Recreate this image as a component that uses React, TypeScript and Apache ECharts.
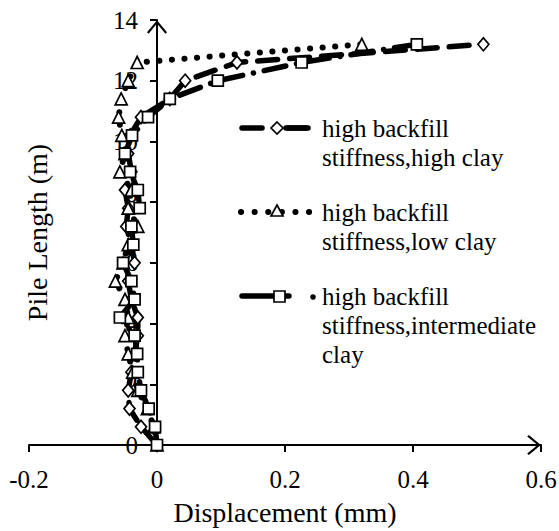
import React, { useEffect, useRef } from "react";
import * as echarts from "echarts";

// Pile length (m) at each measured point
const depth = [0, 0.6, 1.2, 1.8, 2.4, 3.0, 3.6, 4.2, 4.8, 5.4, 6.0, 6.6, 7.2, 7.8, 8.4, 9.0, 9.6, 10.2, 10.8, 11.4, 12.0, 12.6, 13.2];

// Displacement (mm)
const highClay = [0, -0.025, -0.043, -0.045, -0.04, -0.035, -0.03, -0.03, -0.04, -0.045, -0.035, -0.04, -0.048, -0.045, -0.05, -0.04, -0.045, -0.042, -0.025, 0.02, 0.044, 0.125, 0.51];
const lowClay = [0, -0.005, -0.015, -0.03, -0.038, -0.045, -0.05, -0.045, -0.05, -0.065, -0.053, -0.045, -0.03, -0.045, -0.04, -0.058, -0.05, -0.055, -0.06, -0.056, -0.045, -0.031, 0.32];
const interClay = [0, -0.003, -0.013, -0.025, -0.03, -0.031, -0.035, -0.058, -0.035, -0.04, -0.053, -0.037, -0.04, -0.027, -0.03, -0.042, -0.05, -0.039, -0.014, 0.02, 0.095, 0.226, 0.406];

const seriesNames = [
  "high backfill\nstiffness,high clay",
  "high backfill\nstiffness,low clay",
  "high backfill\nstiffness,intermediate\nclay",
];

const FONT = "'Liberation Serif', 'Times New Roman', serif";
const ARROW = "path://M0,0 L10,12 L8.4,13.6 L0,3.2 L-8.4,13.6 L-10,12 Z";

const GRID_LEFT = 29;
const GRID_RIGHT = 18;
const PLOT_W = 559 - GRID_LEFT - GRID_RIGHT;
const X_MIN = -0.2;
const X_MAX = 0.6;

export default function App() {
  const ref = useRef<HTMLDivElement>(null);

  useEffect(() => {
    if (!ref.current) return;
    const chart = echarts.init(ref.current, undefined, { renderer: "svg" });

    const toPts = (xs: number[]) => xs.map((x, i) => [x, depth[i]]);
    const markerStyle = { color: "#fff", borderColor: "#000", borderWidth: 1.7 };
    // shift the y axis so that it crosses the x axis at displacement 0
    const yAxisShift = ((0 - X_MIN) / (X_MAX - X_MIN)) * PLOT_W;

    const legendText = (text: string, x: number, y: number) => ({
      type: "text",
      x,
      y,
      style: { text, font: `25px ${FONT}`, fill: "#000", lineHeight: 29, verticalAlign: "top" },
    });

    chart.setOption({
      animation: false,
      backgroundColor: "#fff",
      grid: { left: GRID_LEFT, right: GRID_RIGHT, top: 20, bottom: 86, containLabel: false, outerBoundsMode: "none" },
      xAxis: {
        type: "value",
        min: X_MIN,
        max: X_MAX,
        interval: 0.2,
        name: "Displacement (mm)",
        nameLocation: "middle",
        nameGap: 53,
        nameTextStyle: { fontFamily: FONT, fontSize: 28, color: "#000" },
        axisLine: {
          onZero: true,
          symbol: ["none", ARROW],
          symbolSize: [20, 14],
          symbolOffset: [0, -7],
          lineStyle: { color: "#000", width: 2 },
        },
        axisTick: { show: true, length: 7, lineStyle: { color: "#000", width: 2 } },
        axisLabel: {
          fontFamily: FONT,
          fontSize: 25,
          color: "#000",
          margin: 22,
          formatter: (v: number) => String(Math.round(v * 10) / 10),
        },
        splitLine: { show: false },
      },
      yAxis: {
        type: "value",
        min: 0,
        max: 14,
        interval: 2,
        position: "left",
        offset: -yAxisShift,
        name: "Pile Length (m)",
        nameLocation: "middle",
        nameGap: 106,
        nameTextStyle: { fontFamily: FONT, fontSize: 28, color: "#000" },
        axisLine: {
          onZero: false,
          symbol: ["none", ARROW],
          symbolSize: [20, 14],
          symbolOffset: [0, -7],
          lineStyle: { color: "#000", width: 2 },
        },
        axisTick: { show: true, length: 7, lineStyle: { color: "#000", width: 2 } },
        axisLabel: {
          fontFamily: FONT,
          fontSize: 25,
          color: "#000",
          margin: 19,
          showMaxLabel: true,
        },
        splitLine: { show: false },
      },
      series: [
        {
          name: seriesNames[0],
          type: "line",
          data: toPts(highClay),
          symbol: "diamond",
          symbolSize: [11, 13],
          itemStyle: markerStyle,
          lineStyle: { color: "#000", width: 5.5, type: [20, 12], cap: "round" },
          z: 3,
        },
        {
          name: seriesNames[1],
          type: "line",
          data: toPts(lowClay),
          symbol: "triangle",
          symbolSize: 12,
          itemStyle: markerStyle,
          lineStyle: { color: "#000", width: 6, type: [0.1, 12.5], cap: "round" },
          z: 3,
        },
        {
          name: seriesNames[2],
          type: "line",
          data: toPts(interClay),
          symbol: "rect",
          symbolSize: 11,
          itemStyle: markerStyle,
          lineStyle: { color: "#000", width: 5.5, type: [22, 11, 0.1, 11], cap: "round" },
          z: 4,
        },
      ],
      graphic: [
        // legend item 1
        {
          type: "line",
          shape: { x1: 242, y1: 128, x2: 308, y2: 128 },
          style: { stroke: "#000", lineWidth: 5.5, lineDash: [20, 24], lineCap: "round" },
        },
        {
          type: "line",
          shape: { x1: 288, y1: 128, x2: 308, y2: 128 },
          style: { stroke: "#000", lineWidth: 5.5, lineCap: "round" },
        },
        {
          type: "polygon",
          shape: { points: [[277, 122], [283, 128], [277, 134], [271, 128]] },
          style: { fill: "#fff", stroke: "#000", lineWidth: 1.7 },
        },
        legendText(seriesNames[0], 322, 114),
        // legend item 2
        {
          type: "line",
          shape: { x1: 241, y1: 212, x2: 310, y2: 212 },
          style: { stroke: "#000", lineWidth: 6, lineDash: [0.1, 13.5], lineCap: "round" },
        },
        {
          type: "polygon",
          shape: { points: [[277, 205], [283, 216], [271, 216]] },
          style: { fill: "#fff", stroke: "#000", lineWidth: 1.7 },
        },
        legendText(seriesNames[1], 322, 198),
        // legend item 3
        {
          type: "line",
          shape: { x1: 242, y1: 296, x2: 289, y2: 296 },
          style: { stroke: "#000", lineWidth: 5.5, lineCap: "round" },
        },
        {
          type: "circle",
          shape: { cx: 313, cy: 297, r: 2.8 },
          style: { fill: "#000" },
        },
        {
          type: "rect",
          shape: { x: 274, y: 291, width: 11, height: 11 },
          style: { fill: "#fff", stroke: "#000", lineWidth: 1.7 },
        },
        legendText(seriesNames[2], 322, 282),
      ],
    });

    return () => chart.dispose();
  }, []);

  return <div ref={ref} style={{ position: "fixed", left: 0, top: 0, width: 559, height: 531 }} />;
}
